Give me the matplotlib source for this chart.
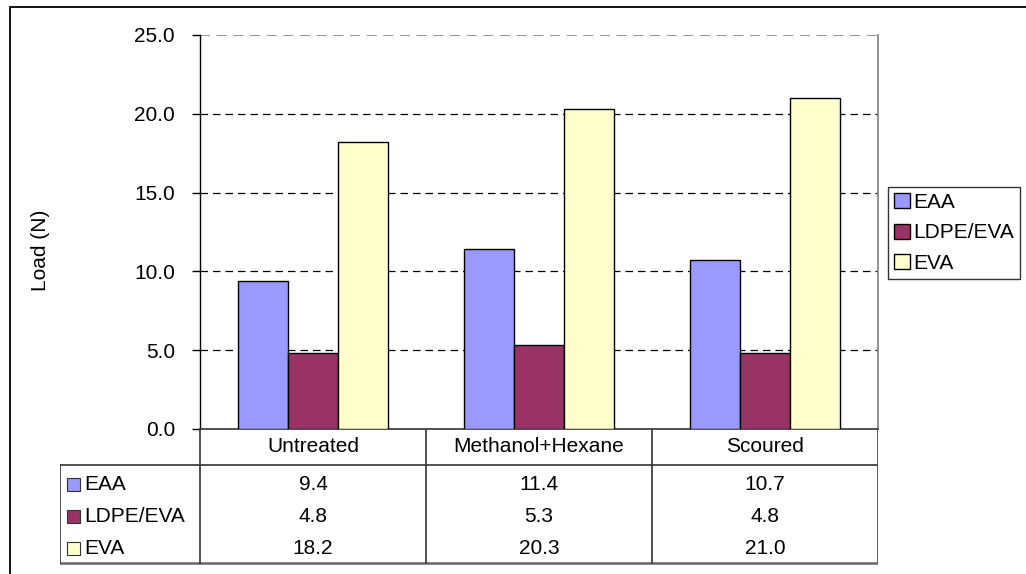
import matplotlib.pyplot as plt
from matplotlib.patches import Rectangle
from matplotlib.lines import Line2D

# Peel test loads by treatment
treatments = ['Untreated', 'Methanol+Hexane', 'Scoured']
series = ['EAA', 'LDPE/EVA', 'EVA']
eaa = [9.4, 11.4, 10.7]
ldpe_eva = [4.8, 5.3, 4.8]
eva = [18.2, 20.3, 21.0]
values = [eaa, ldpe_eva, eva]
colors = ['#9999FF', '#993366', '#FFFFCC']

plt.rcParams['font.family'] = ['Liberation Sans', 'DejaVu Sans']
plt.rcParams['font.size'] = 15

W, H = 1026, 574
fig = plt.figure(figsize=(W / 100, H / 100), dpi=100)

def box(x0, y0, x1, y1):
    # pixel box (top-left origin) -> figure fraction rect
    return [x0 / W, 1 - y1 / H, (x1 - x0) / W, (y1 - y0) / H]

# outer chart border
fig.patches.append(Rectangle((10 / W, -0.1), 1.2, 1 - 7 / H + 0.1, transform=fig.transFigure,
                             fill=False, edgecolor='black', linewidth=1.3))

ax = fig.add_axes(box(200, 35, 878, 429))
bw = 0.221
for k, (name, vals, col) in enumerate(zip(series, values, colors)):
    xs = [i + (k - 1) * bw for i in range(len(treatments))]
    ax.bar(xs, vals, width=bw, color=col, edgecolor='black', linewidth=1.0, label=name, zorder=3)

ax.set_xlim(-0.5, 2.5)
ax.set_ylim(0, 25)
ax.set_yticks([0, 5, 10, 15, 20, 25])
ax.set_yticklabels(['%.1f' % v for v in [0, 5, 10, 15, 20, 25]])
ax.set_xticks([])
ax.tick_params(axis='y', direction='out', length=6, width=1, pad=12)
for v in [5, 10, 15, 20]:
    ax.axhline(v, color='black', linestyle=(0, (6, 4)), linewidth=0.9, zorder=1)
ax.axhline(25, color='#808080', linestyle=(0, (6, 4)), linewidth=1.2, zorder=1)
ax.spines['top'].set_visible(False)
ax.spines['right'].set_color('#808080')
ax.spines['right'].set_linewidth(1.2)
ax.spines['left'].set_linewidth(1.0)
ax.spines['bottom'].set_linewidth(1.2)
ax.spines['bottom'].set_color('#333333')

fig.text(40 / W, 1 - 250 / H, 'Load (N)', rotation=90, ha='center', va='center')

leg = ax.legend(loc='center left', bbox_to_anchor=(888 / W, 1 - 233 / H), bbox_transform=fig.transFigure,
                frameon=True, fancybox=False, handlelength=0.75, handleheight=0.75, handletextpad=0.15,
                labelspacing=0.55, borderpad=0.3, borderaxespad=0)
leg.get_frame().set_edgecolor('black')
leg.get_frame().set_linewidth(1.0)

# data table under the plot
tab = fig.add_axes(box(60, 429, 878, 565))
tab.set_xlim(-0.5 - 140 / 226, 2.5)
tab.set_ylim(136, 0)
tab.axis('off')
lc = '#333333'
x_left = -0.5 - 140 / 226
tab.add_line(Line2D([x_left, 2.5], [36, 36], color=lc, lw=1.2))
tab.add_line(Line2D([x_left, 2.5], [134, 134], color='#666666', lw=1.8))
tab.add_line(Line2D([x_left, x_left], [36, 134], color=lc, lw=1.2))
for xb in [-0.5, 0.5, 1.5]:
    tab.add_line(Line2D([xb, xb], [0, 134], color=lc, lw=1.2))
tab.add_line(Line2D([2.5, 2.5], [0, 134], color='#555555', lw=1.4))

for i, name in enumerate(treatments):
    tab.text(i, 18, name, ha='center', va='center')
row_y = [55, 87, 119]
for k, (name, vals, col) in enumerate(zip(series, values, colors)):
    tab.add_patch(Rectangle((x_left + 7 / 226, row_y[k] - 6.5), 13 / 226, 13, facecolor=col,
                            edgecolor='#333333', linewidth=0.8))
    tab.text(x_left + 24 / 226, row_y[k], name, ha='left', va='center')
    for i, v in enumerate(vals):
        tab.text(i, row_y[k], '%.1f' % v, ha='center', va='center')

fig.savefig('out.png', dpi=100)
